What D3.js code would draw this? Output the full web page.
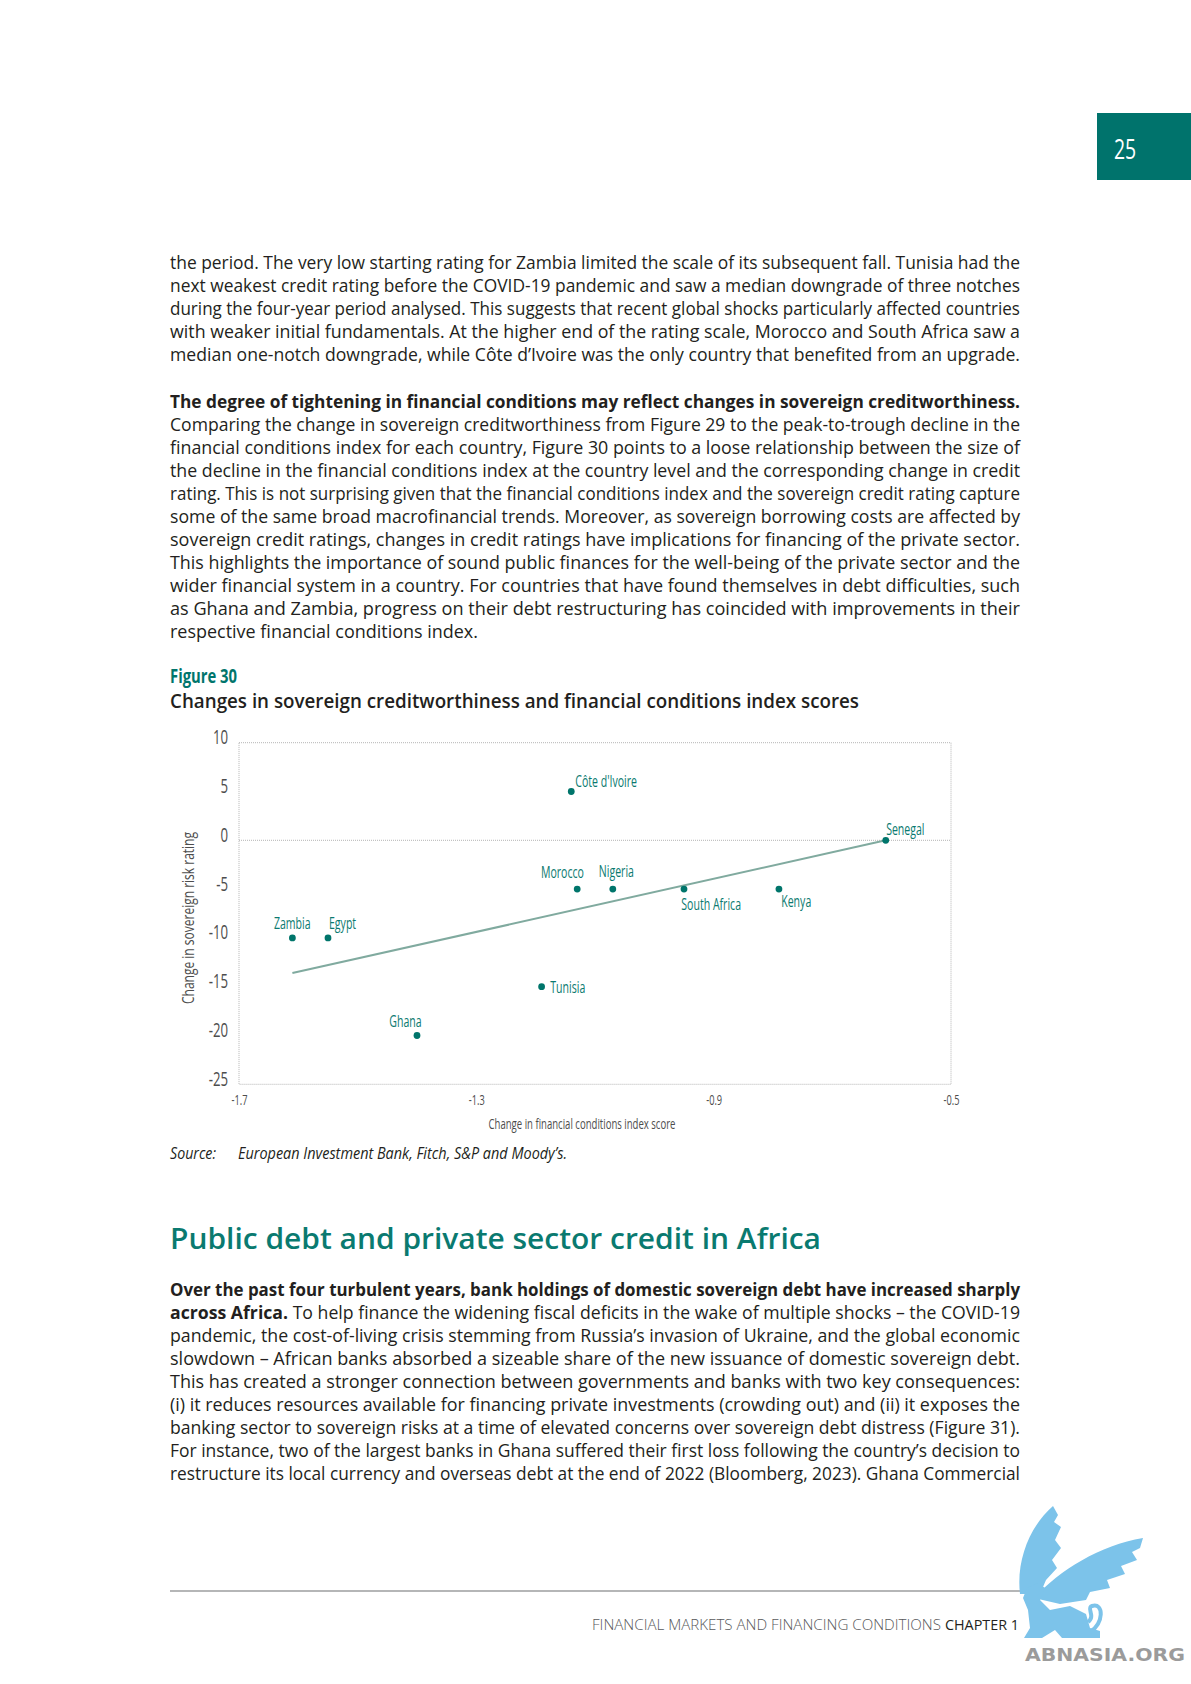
<!DOCTYPE html>
<html>
<head>
<meta charset="utf-8">
<script src="https://cdn.jsdelivr.net/npm/d3@7"></script>
<style>
  body { margin: 0; background: #fff; }
  svg { display: block; }
</style>
</head>
<body>
<svg id="page"></svg>
<script>
// ---- Figure 30 data ----
const countries = ["Zambia", "Egypt", "Ghana", "Tunisia", "Côte d'Ivoire", "Morocco", "Nigeria", "South Africa", "Kenya", "Senegal"];
const fciChange = [-1.61, -1.55, -1.40, -1.19, -1.14, -1.13, -1.07, -0.95, -0.79, -0.61];
const ratingChange = [-10, -10, -20, -15, 5, -5, -5, -5, -5, 0];
const trendX = [-1.61, -0.61];
const trendY = [-13.6, 0];
const xTicks = [-1.7, -1.3, -0.9, -0.5];
const yTicks = [10, 5, 0, -5, -10, -15, -20, -25];

// ---- page text ----
const para1 = [
  "the period. The very low starting rating for Zambia limited the scale of its subsequent fall. Tunisia had the",
  "next weakest credit rating before the COVID-19 pandemic and saw a median downgrade of three notches",
  "during the four-year period analysed. This suggests that recent global shocks particularly affected countries",
  "with weaker initial fundamentals. At the higher end of the rating scale, Morocco and South Africa saw a",
  "median one-notch downgrade, while Côte d’Ivoire was the only country that benefited from an upgrade."
];
const para2Lead = "The degree of tightening in financial conditions may reflect changes in sovereign creditworthiness.";
const para2 = [
  "Comparing the change in sovereign creditworthiness from Figure 29 to the peak-to-trough decline in the",
  "financial conditions index for each country, Figure 30 points to a loose relationship between the size of",
  "the decline in the financial conditions index at the country level and the corresponding change in credit",
  "rating. This is not surprising given that the financial conditions index and the sovereign credit rating capture",
  "some of the same broad macrofinancial trends. Moreover, as sovereign borrowing costs are affected by",
  "sovereign credit ratings, changes in credit ratings have implications for financing of the private sector.",
  "This highlights the importance of sound public finances for the well-being of the private sector and the",
  "wider financial system in a country. For countries that have found themselves in debt difficulties, such",
  "as Ghana and Zambia, progress on their debt restructuring has coincided with improvements in their",
  "respective financial conditions index."
];
const para3Lead = ["Over the past four turbulent years, bank holdings of domestic sovereign debt have increased sharply", "across Africa."];
const para3 = [
  " To help finance the widening fiscal deficits in the wake of multiple shocks – the COVID-19",
  "pandemic, the cost-of-living crisis stemming from Russia’s invasion of Ukraine, and the global economic",
  "slowdown – African banks absorbed a sizeable share of the new issuance of domestic sovereign debt.",
  "This has created a stronger connection between governments and banks with two key consequences:",
  "(i) it reduces resources available for financing private investments (crowding out) and (ii) it exposes the",
  "banking sector to sovereign risks at a time of elevated concerns over sovereign debt distress (Figure 31).",
  "For instance, two of the largest banks in Ghana suffered their first loss following the country’s decision to",
  "restructure its local currency and overseas debt at the end of 2022 (Bloomberg, 2023). Ghana Commercial"
];

const W = 1191, H = 1684;
const teal = "#00756c";
const ink = "#231f20";
const bodyFont = "'Open Sans', 'Noto Sans', sans-serif";

const svg = d3.select("#page").attr("width", W).attr("height", H);

// squeeze text horizontally to mimic the condensed typeface
function condense(sel, k) {
  sel.each(function () {
    const w = this.getComputedTextLength();
    d3.select(this).attr("textLength", w * k).attr("lengthAdjust", "spacingAndGlyphs");
  });
}

// one line of body text, segments = [[text, weight], ...]
function textLine(y, segs, width) {
  const t = svg.append("text")
    .attr("x", 170).attr("y", y)
    .attr("font-family", bodyFont).attr("font-size", 17.5)
    .attr("fill", ink);
  segs.forEach(([s, wt]) => t.append("tspan").attr("font-weight", wt).text(s));
  t.attr("textLength", width).attr("lengthAdjust", "spacingAndGlyphs");
  return t;
}

// page number tab
svg.append("rect").attr("x", 1097).attr("y", 113).attr("width", 94).attr("height", 67).attr("fill", "#00736c");
svg.append("text").attr("x", 1125).attr("y", 159).attr("text-anchor", "middle")
  .attr("font-family", bodyFont).attr("font-size", 27).attr("fill", "#fff")
  .text("25").call(condense, 0.72);

// paragraph 1
para1.forEach((s, i) => textLine(269 + i * 23, [[s, 400]], 850));

// paragraph 2
textLine(408, [[para2Lead, 700]], 850);
para2.forEach((s, i) => {
  const last = i === para2.length - 1;
  textLine(431 + i * 23, [[s, 400]], last ? 308 : 850);
});

// ---- Figure 30 ----
svg.append("text").attr("x", 170).attr("y", 683)
  .attr("font-family", bodyFont).attr("font-size", 19).attr("font-weight", 700)
  .attr("fill", teal).text("Figure 30")
  .attr("textLength", 67).attr("lengthAdjust", "spacingAndGlyphs");
svg.append("text").attr("x", 170).attr("y", 708)
  .attr("font-family", bodyFont).attr("font-size", 19.5).attr("font-weight", 600)
  .attr("fill", ink)
  .text("Changes in sovereign creditworthiness and financial conditions index scores")
  .attr("textLength", 689).attr("lengthAdjust", "spacingAndGlyphs");

const x = d3.scaleLinear().domain([-1.7, -0.5]).range([239, 951]);
const y = d3.scaleLinear().domain([-25, 10]).range([1084.3, 742.7]);

const chart = svg.append("g");

// dotted frame and zero line
chart.append("rect")
  .attr("x", x(-1.7)).attr("y", y(10))
  .attr("width", x(-0.5) - x(-1.7)).attr("height", y(-25) - y(10))
  .attr("fill", "none").attr("stroke", "#b5b5b5").attr("stroke-width", 1)
  .attr("stroke-dasharray", "1,1");
chart.append("line")
  .attr("x1", x(-1.7)).attr("x2", x(-0.5)).attr("y1", y(0)).attr("y2", y(0))
  .attr("stroke", "#b5b5b5").attr("stroke-width", 1).attr("stroke-dasharray", "1,1");

// y axis
const yAxis = chart.append("g")
  .attr("transform", `translate(${x(-1.7)},0)`)
  .call(d3.axisLeft(y).tickValues(yTicks).tickSize(0).tickFormat(d => String(d)));
yAxis.select(".domain").remove();
yAxis.selectAll("text")
  .attr("x", -11).attr("dy", 1)
  .attr("font-family", bodyFont).attr("font-size", 20).attr("fill", "#4d4d4d")
  .call(condense, 0.66);

// x axis
const xAxis = chart.append("g")
  .attr("transform", `translate(0,${y(-25)})`)
  .call(d3.axisBottom(x).tickValues(xTicks).tickSize(0).tickFormat(d => String(d)));
xAxis.select(".domain").remove();
xAxis.selectAll("text")
  .attr("y", 21).attr("dy", 0)
  .attr("font-family", bodyFont).attr("font-size", 14).attr("fill", "#4d4d4d")
  .call(condense, 0.66);

// axis titles
chart.append("text")
  .attr("x", 582).attr("y", 1129).attr("text-anchor", "middle")
  .attr("font-family", bodyFont).attr("font-size", 15).attr("fill", "#4d4d4d")
  .text("Change in financial conditions index score")
  .attr("textLength", 187).attr("lengthAdjust", "spacingAndGlyphs");
chart.append("text")
  .attr("transform", "translate(194,918) rotate(-90)").attr("text-anchor", "middle")
  .attr("font-family", bodyFont).attr("font-size", 17).attr("fill", "#4d4d4d")
  .text("Change in sovereign risk rating")
  .attr("textLength", 172).attr("lengthAdjust", "spacingAndGlyphs");

// trend line
chart.append("path")
  .datum(trendX.map((v, i) => [v, trendY[i]]))
  .attr("fill", "none").attr("stroke", "#80aa9f").attr("stroke-width", 2)
  .attr("d", d3.line().x(d => x(d[0])).y(d => y(d[1])));

// points and labels
const pts = countries.map((c, i) => ({ c, fx: fciChange[i], r: ratingChange[i] }));
const labelPos = {
  "Zambia": [-18.5, -9.3], "Egypt": [1, -9.3], "Ghana": [-27.7, -8.6], "Tunisia": [8.7, 6],
  "Côte d'Ivoire": [4, -4.6], "Morocco": [-36.3, -11.4], "Nigeria": [-14, -12],
  "South Africa": [-2.7, 20.7], "Kenya": [2.3, 18], "Senegal": [0.4, -5.7]
};

chart.selectAll("circle.pt").data(pts).join("circle")
  .attr("class", "pt")
  .attr("cx", d => x(d.fx)).attr("cy", d => y(d.r)).attr("r", 3.4)
  .attr("fill", "#00756b");

chart.selectAll("text.lbl").data(pts).join("text")
  .attr("class", "lbl")
  .attr("transform", d => `translate(${x(d.fx) + labelPos[d.c][0]},${y(d.r) + labelPos[d.c][1]}) scale(0.66,1)`)
  .attr("font-family", bodyFont).attr("font-size", 16).attr("fill", "#0b7a70")
  .text(d => d.c);

// source
svg.append("text").attr("x", 170).attr("y", 1159)
  .attr("font-family", bodyFont).attr("font-size", 15.5).attr("font-style", "italic").attr("fill", ink)
  .text("Source:").attr("textLength", 46).attr("lengthAdjust", "spacingAndGlyphs");
svg.append("text").attr("x", 238).attr("y", 1159)
  .attr("font-family", bodyFont).attr("font-size", 15.5).attr("font-style", "italic").attr("fill", ink)
  .text("European Investment Bank, Fitch, S&P and Moody’s.")
  .attr("textLength", 329).attr("lengthAdjust", "spacingAndGlyphs");

// section heading
svg.append("text").attr("x", 170).attr("y", 1249)
  .attr("font-family", bodyFont).attr("font-size", 29.5).attr("font-weight", 600).attr("fill", "#0a7a70")
  .text("Public debt and private sector credit in Africa")
  .attr("textLength", 651).attr("lengthAdjust", "spacingAndGlyphs");

// paragraph 3
textLine(1296, [[para3Lead[0], 700]], 850);
textLine(1319, [[para3Lead[1], 700], [para3[0], 400]], 850);
para3.slice(1).forEach((s, i) => textLine(1342 + i * 23, [[s, 400]], 850));

// footer
svg.append("line").attr("x1", 170).attr("x2", 1022).attr("y1", 1591).attr("y2", 1591)
  .attr("stroke", "#6d6e71").attr("stroke-width", 1.2);
svg.append("text").attr("x", 592).attr("y", 1630)
  .attr("font-family", bodyFont).attr("font-size", 14).attr("font-weight", 300).attr("fill", "#58595b")
  .text("FINANCIAL MARKETS AND FINANCING CONDITIONS")
  .attr("textLength", 349).attr("lengthAdjust", "spacingAndGlyphs");
svg.append("text").attr("x", 945).attr("y", 1630)
  .attr("font-family", bodyFont).attr("font-size", 14).attr("fill", ink)
  .text("CHAPTER 1").attr("textLength", 74).attr("lengthAdjust", "spacingAndGlyphs");

// watermark griffin
const logo = svg.append("g").attr("fill", "#7cc3ea");
logo.append("path").attr("d",
  "M1020,1594 C1016,1560 1030,1526 1053,1506 L1058,1515 L1054,1522 L1061,1527 L1055,1540 L1061,1548 L1052,1560 L1057,1568 L1046,1580 L1040,1594 Z");
logo.append("path").attr("d",
  "M1034,1598 C1060,1570 1100,1545 1143,1538 L1140,1548 L1132,1552 L1137,1560 L1121,1566 L1125,1574 L1107,1580 L1110,1588 L1090,1592 L1086,1600 L1060,1604 Z");
logo.append("path").attr("d",
  "M1027,1588 L1038,1583 L1045,1588 L1040,1600 L1050,1610 L1070,1606 L1086,1614 L1090,1628 L1100,1631 L1100,1638 L1062,1638 L1055,1630 L1042,1638 L1024,1638 L1030,1628 L1028,1610 L1023,1598 Z");
logo.append("path").attr("fill", "none").attr("stroke", "#7cc3ea").attr("stroke-width", 4)
  .attr("d", "M1088,1622 C1096,1616 1086,1608 1092,1606 C1104,1602 1104,1624 1090,1632");
svg.append("text").attr("x", 1025).attr("y", 1661)
  .attr("font-family", "'DejaVu Sans', sans-serif").attr("font-size", 17).attr("font-weight", 700)
  .attr("fill", "#9b9b9b").text("ABNASIA.ORG")
  .attr("textLength", 160).attr("lengthAdjust", "spacingAndGlyphs");
</script>
</body>
</html>
